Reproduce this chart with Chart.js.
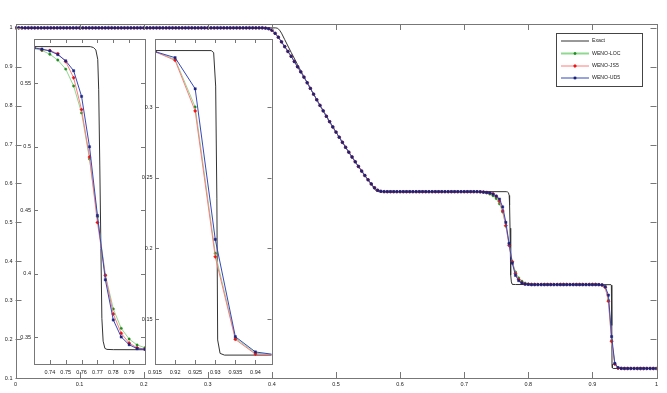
<!DOCTYPE html>
<html>
<head>
<meta charset="utf-8">
<script src="https://cdn.jsdelivr.net/npm/chart.js@4"></script>
<style>
html, body { margin: 0; padding: 0; background: #fff; }
#wrap { position: relative; width: 667px; height: 393px; }
canvas { position: absolute; }
</style>
</head>
<body>
<div id="wrap">
  <canvas id="main" width="667" height="393" style="left:0;top:0"></canvas>
  <canvas id="inset1" width="137" height="348" style="left:14px;top:30px"></canvas>
  <canvas id="inset2" width="145" height="348" style="left:135px;top:30px"></canvas>
</div>
<script>
// grid of the numerical solutions (x = 0 ... 1)
const gridStep = 0.005;

// x = 0 ... 0.725, same for all three schemes
const sharedLeft = [
  1, 1, 1, 1, 1, 1, 1, 1, 1, 1,
  1, 1, 1, 1, 1, 1, 1, 1, 1, 1,
  1, 1, 1, 1, 1, 1, 1, 1, 1, 1,
  1, 1, 1, 1, 1, 1, 1, 1, 1, 1,
  1, 1, 1, 1, 1, 1, 1, 1, 1, 1,
  1, 1, 1, 1, 1, 1, 1, 1, 1, 1,
  1, 1, 1, 1, 1, 1, 1, 1, 1, 1,
  1, 1, 1, 1, 1, 1, 1, 1,
  0.9995, 0.998, 0.994, 0.986, 0.976, 0.964, 0.952, 0.9395, 0.927, 0.9135,
  0.9, 0.887, 0.8735, 0.859, 0.8445, 0.8297, 0.8152, 0.8008, 0.7867, 0.7727,
  0.759, 0.7454, 0.7321, 0.7189, 0.7059, 0.6931, 0.6805, 0.6681, 0.6558, 0.6438,
  0.632, 0.6206, 0.6096, 0.5988, 0.589, 0.5825, 0.5798, 0.5791,
  0.579, 0.579, 0.579, 0.579, 0.579, 0.579, 0.579, 0.579, 0.579, 0.579,
  0.579, 0.579, 0.579, 0.579, 0.579, 0.579, 0.579, 0.579, 0.579, 0.579,
  0.579, 0.579, 0.579, 0.579, 0.579, 0.579, 0.579, 0.579, 0.579, 0.5786
];

// x = 0.73 ... 0.80 (contact)
const contactLOC = [0.5775, 0.576, 0.573, 0.5684, 0.5613, 0.548, 0.5268, 0.4905, 0.445, 0.3992, 0.3724, 0.3571, 0.3487, 0.344, 0.3418];
const contactJS5 = [0.578, 0.5767, 0.5759, 0.5735, 0.5672, 0.5545, 0.5294, 0.492, 0.4405, 0.3987, 0.3684, 0.3532, 0.3455, 0.3418, 0.3408];
const contactUD5 = [0.578, 0.577, 0.5756, 0.5727, 0.5678, 0.56, 0.5398, 0.5001, 0.446, 0.3953, 0.3637, 0.3503, 0.3442, 0.3411, 0.3405];

// x = 0.805 ... 0.91
const sharedMid = [
  0.3402, 0.3402, 0.3402, 0.3402, 0.3402, 0.3402, 0.3402, 0.3402, 0.3402, 0.3402,
  0.3402, 0.3402, 0.3402, 0.3402, 0.3402, 0.3402, 0.3402, 0.3402, 0.3402, 0.3402,
  0.3402, 0.3401
];

// x = 0.915 ... 0.945 (shock)
const shockLOC = [0.3391, 0.3337, 0.3, 0.1965, 0.1365, 0.1258, 0.1247];
const shockJS5 = [0.3391, 0.333, 0.2972, 0.194, 0.1356, 0.1252, 0.1246];
const shockUD5 = [0.3392, 0.3349, 0.3129, 0.2064, 0.1375, 0.1267, 0.1248];

// x = 0.95 ... 1
const sharedRight = [0.1245, 0.1245, 0.1245, 0.1245, 0.1245, 0.1245, 0.1245, 0.1245, 0.1245, 0.1245, 0.1245];

// exact solution
const exactX = [0, 0.406, 0.409, 0.412, 0.415, 0.42, 0.43, 0.44, 0.45, 0.46, 0.47, 0.48, 0.49, 0.5, 0.51, 0.52, 0.53, 0.54, 0.55, 0.56,
  0.563, 0.566, 0.57, 0.7655, 0.7675, 0.769, 0.7702, 0.7708, 0.7715, 0.7722, 0.7728, 0.7736, 0.7747, 0.776, 0.78,
  0.929, 0.9296, 0.9301, 0.9304, 0.9306, 0.9312, 0.9323, 1];
const exactY = [1, 1, 0.999, 0.994, 0.9865, 0.9698, 0.9372, 0.9055, 0.8746, 0.8445, 0.8152, 0.7867, 0.759, 0.7321, 0.7059, 0.6805, 0.6558, 0.6319, 0.6093, 0.587,
  0.5805, 0.5791, 0.579, 0.579, 0.5783, 0.5764, 0.569, 0.545, 0.485, 0.42, 0.365, 0.347, 0.3413, 0.3405, 0.3403,
  0.3399, 0.3385, 0.3148, 0.235, 0.1352, 0.1257, 0.1245, 0.1245];

// tick labels
const mainXTicks = [0, 0.1, 0.2, 0.3, 0.4, 0.5, 0.6, 0.7, 0.8, 0.9, 1];
const mainYTicks = [0.1, 0.2, 0.3, 0.4, 0.5, 0.6, 0.7, 0.8, 0.9, 1];
const inset1XTicks = [0.74, 0.75, 0.76, 0.77, 0.78, 0.79];
const inset1YTicks = [0.35, 0.4, 0.45, 0.5, 0.55];
const inset2XTicks = [0.915, 0.92, 0.925, 0.93, 0.935, 0.94];
const inset2YTicks = [0.15, 0.2, 0.25, 0.3];

const seriesLOC = [].concat(sharedLeft, contactLOC, sharedMid, shockLOC, sharedRight);
const seriesJS5 = [].concat(sharedLeft, contactJS5, sharedMid, shockJS5, sharedRight);
const seriesUD5 = [].concat(sharedLeft, contactUD5, sharedMid, shockUD5, sharedRight);

function gridPts(vals) {
  return vals.map((v, i) => ({ x: +(i * gridStep).toFixed(4), y: v }));
}
const exactPts = exactX.map((x, i) => ({ x: x, y: exactY[i] }));

Chart.defaults.font.family = "'Liberation Sans', Arial, sans-serif";
Chart.defaults.font.size = 5.5;
Chart.defaults.color = '#222';

// frame with inward ticks on all four sides
const boxTicks = {
  id: 'boxTicks',
  defaults: { len: 4, color: '#777', fill: null },
  beforeDatasetsDraw(chart, args, opts) {
    if (!opts.fill) return;
    const a = chart.chartArea;
    chart.ctx.save();
    chart.ctx.fillStyle = opts.fill;
    chart.ctx.fillRect(a.left, a.top, a.right - a.left, a.bottom - a.top);
    chart.ctx.restore();
  },
  afterDatasetsDraw(chart, args, opts) {
    const ctx = chart.ctx, a = chart.chartArea, sx = chart.scales.x, sy = chart.scales.y;
    ctx.save();
    ctx.strokeStyle = opts.color;
    ctx.lineWidth = 1;
    ctx.beginPath();
    sx.ticks.forEach(t => {
      const p = Math.round(sx.getPixelForValue(t.value)) + 0.5;
      ctx.moveTo(p, a.bottom); ctx.lineTo(p, a.bottom - opts.len);
      ctx.moveTo(p, a.top); ctx.lineTo(p, a.top + opts.len);
    });
    sy.ticks.forEach(t => {
      const p = Math.round(sy.getPixelForValue(t.value)) + 0.5;
      ctx.moveTo(a.left, p); ctx.lineTo(a.left + opts.len, p);
      ctx.moveTo(a.right, p); ctx.lineTo(a.right - opts.len, p);
    });
    ctx.stroke();
    ctx.strokeRect(Math.round(a.left) + 0.5, Math.round(a.top) + 0.5,
      Math.round(a.right - a.left), Math.round(a.bottom - a.top));
    ctx.restore();
  }
};
Chart.register(boxTicks);

// legend box in the upper right corner
const legendBox = {
  id: 'legendBox',
  afterDraw(chart) {
    const ctx = chart.ctx;
    ctx.save();
    ctx.fillStyle = '#fff';
    ctx.fillRect(556.5, 33.5, 86, 53);
    ctx.strokeStyle = '#444';
    ctx.lineWidth = 1;
    ctx.strokeRect(556.5, 33.5, 86, 53);
    const rows = [41, 53.5, 66, 78];
    chart.data.datasets.forEach((ds, k) => {
      const y = rows[k];
      ctx.strokeStyle = ds.borderColor;
      ctx.lineWidth = k === 1 ? 2 : 1;
      ctx.beginPath(); ctx.moveTo(561, y); ctx.lineTo(589, y); ctx.stroke();
      if (ds.pointRadius > 0) {
        ctx.fillStyle = ds.pointBackgroundColor;
        ctx.strokeStyle = ds.pointBorderColor;
        ctx.lineWidth = ds.pointBorderWidth;
        Chart.helpers.drawPoint(ctx, { pointStyle: ds.pointStyle, radius: ds.pointRadius, borderWidth: ds.pointBorderWidth, rotation: 0 }, 575, y);
      }
      ctx.fillStyle = '#222';
      ctx.font = "5.2px 'Liberation Sans', Arial, sans-serif";
      ctx.textBaseline = 'middle';
      ctx.fillText(ds.label, 592, y);
    });
    ctx.restore();
  }
};

function makeDatasets() {
  return [
    { label: 'Exact', data: exactPts, borderColor: '#333', borderWidth: 1, pointRadius: 0, order: 4 },
    { label: 'WENO-LOC', data: gridPts(seriesLOC), borderColor: '#8fd88f', borderWidth: 1,
      pointStyle: 'circle', pointRadius: 1.2, pointBackgroundColor: '#1e8c1e', pointBorderColor: '#1e8c1e', pointBorderWidth: 0.4, order: 3 },
    { label: 'WENO-JS5', data: gridPts(seriesJS5), borderColor: '#ff7b7b', borderWidth: 1,
      pointStyle: 'rectRot', pointRadius: 1.7, pointBackgroundColor: '#ee1111', pointBorderColor: '#ee1111', pointBorderWidth: 0.4, order: 2 },
    { label: 'WENO-UD5', data: gridPts(seriesUD5), borderColor: '#3348bb', borderWidth: 1,
      pointStyle: 'rect', pointRadius: 1.6, pointBackgroundColor: '#1a237e', pointBorderColor: '#1a237e', pointBorderWidth: 0.4, order: 1 }
  ];
}

function axis(min, max, ticks, size, pad, horizontal) {
  return {
    type: 'linear', min: min, max: max,
    grid: { display: false, drawTicks: false },
    border: { display: false },
    ticks: { padding: pad, autoSkip: false, maxRotation: 0, minRotation: 0, callback: v => String(v) },
    afterBuildTicks: s => { s.ticks = ticks.map(v => ({ value: v })); },
    afterFit: s => { if (horizontal) s.height = size; else s.width = size; }
  };
}

function baseOptions(pad, scales, box) {
  return {
    responsive: false, animation: false, devicePixelRatio: 1,
    layout: { padding: pad },
    plugins: { legend: { display: false }, tooltip: { enabled: false }, boxTicks: box },
    elements: { line: { tension: 0 } },
    scales: scales
  };
}

// main axes
new Chart(document.getElementById('main'), {
  type: 'line',
  data: { datasets: makeDatasets() },
  options: baseOptions({ left: 0, top: 24, right: 10.5, bottom: 0 }, {
    x: axis(0, 1, mainXTicks, 15, 3.5, true),
    y: axis(0.1, 1.01, mainYTicks, 15.5, 3, false)
  }, { len: 6, color: '#777', fill: '#fff' }),
  plugins: [legendBox]
});

// inset near the contact
new Chart(document.getElementById('inset1'), {
  type: 'line',
  data: { datasets: makeDatasets() },
  options: baseOptions({ left: 0, top: 9, right: 6, bottom: 0 }, {
    x: axis(0.73, 0.8, inset1XTicks, 14, 5, true),
    y: axis(0.329, 0.585, inset1YTicks, 20, 3, false)
  }, { len: 4, color: '#777', fill: '#fff' })
});

// inset near the shock
new Chart(document.getElementById('inset2'), {
  type: 'line',
  data: { datasets: makeDatasets() },
  options: baseOptions({ left: 0, top: 9, right: 8.5, bottom: 0 }, {
    x: axis(0.915, 0.944, inset2XTicks, 14, 5, true),
    y: axis(0.1182, 0.3481, inset2YTicks, 20, 2.5, false)
  }, { len: 4, color: '#777', fill: '#fff' })
});
</script>
</body>
</html>
